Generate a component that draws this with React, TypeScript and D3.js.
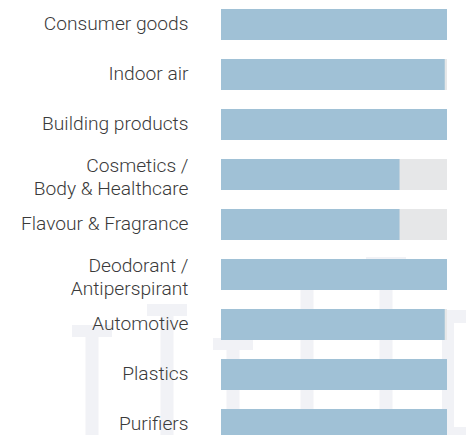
import React from "react";
import * as d3 from "d3";

const categories: string[][] = [
  ["Consumer goods"],
  ["Indoor air"],
  ["Building products"],
  ["Cosmetics /", "Body & Healthcare"],
  ["Flavour & Fragrance"],
  ["Deodorant /", "Antiperspirant"],
  ["Automotive"],
  ["Plastics"],
  ["Purifiers"],
];
const values: number[] = [100, 99, 100, 79, 79, 100, 99, 100, 100];
const maxValue = 100;

const W = 466;
const H = 435;
const BAR = "#a0c1d6";
const TRACK = "#e6e7e8";
const WM = "#f1f2f6";
const TEXT = "#3a3a3a";

// faint background watermark decoration (letter shapes)
const tShapes = [
  { x: 72, y: 325 },
  { x: 147, y: 304 },
  { x: 213, y: 338 },
  { x: 287, y: 275 },
  { x: 366, y: 257 },
];

export default function App() {
  const keys = categories.map((c) => c.join(" "));
  const y = d3
    .scaleBand<string>()
    .domain(keys)
    .range([-0.5, 449.5])
    .paddingInner(0.38)
    .paddingOuter(0.19);
  const x = d3.scaleLinear().domain([0, maxValue]).range([221, 447]);
  const bw = y.bandwidth();
  const labelX = 188.5;

  return (
    <svg
      width={W}
      height={H}
      style={{ position: "absolute", left: 0, top: 0, display: "block" }}
      fontFamily="Roboto, sans-serif"
    >
      <rect width={W} height={H} fill="#ffffff" />
      <g fill={WM}>
        {tShapes.map((t, i) => (
          <g key={i}>
            <rect x={t.x} y={t.y} width={40} height={12} />
            <rect x={t.x + 13.5} y={t.y + 12} width={13} height={H} />
          </g>
        ))}
        <path
          d={`M442,310H${W}V${H}H442Z M454,323V427H${W}V323Z`}
          fillRule="evenodd"
        />
      </g>
      {keys.map((k, i) => {
        const top = y(k)!;
        const cy = top + bw / 2;
        const lines = categories[i];
        return (
          <g key={k}>
            <rect x={x(0)} y={top} width={x(maxValue) - x(0)} height={bw} fill={TRACK} />
            <rect x={x(0)} y={top} width={x(values[i]) - x(0)} height={bw} fill={BAR} />
            <text textAnchor="end" fontSize={19.2} fontWeight={300} fill={TEXT}>
              {lines.length === 1 ? (
                <tspan x={labelX} y={cy + 5}>{lines[0]}</tspan>
              ) : (
                lines.map((l, j) => (
                  <tspan key={j} x={labelX} y={cy - 3 + j * 23}>
                    {l}
                  </tspan>
                ))
              )}
            </text>
          </g>
        );
      })}
    </svg>
  );
}
